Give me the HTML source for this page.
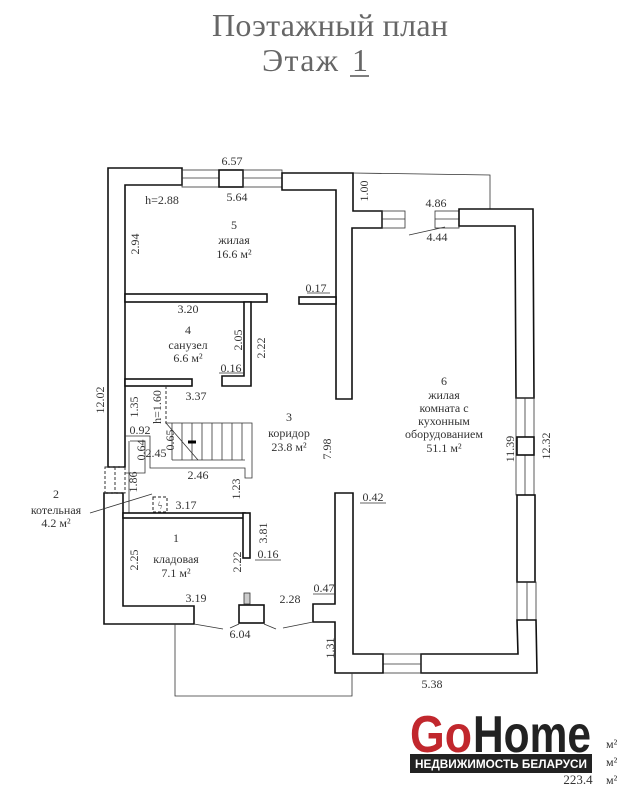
<!DOCTYPE html>
<html><head><meta charset="utf-8"><style>
html,body{margin:0;padding:0;background:#fff;}
svg{display:block;}
text{font-family:"Liberation Serif","DejaVu Serif",serif;fill:#333;}
.s{font-size:12px;text-anchor:middle;}
.w{fill:#fff;stroke:#111;stroke-width:1.6;}
.t{fill:none;stroke:#333;stroke-width:0.8;}
</style></head><body>
<svg width="644" height="800" viewBox="0 0 644 800" xmlns="http://www.w3.org/2000/svg">
<text x="330" y="36" style="font-size:32px;text-anchor:middle;fill:#666" textLength="236">Поэтажный план</text>
<text x="262" y="71" style="font-size:32px;fill:#666" textLength="76">Этаж</text>
<text x="352" y="71" style="font-size:32px;fill:#666">1</text>
<line x1="350" y1="76" x2="369" y2="76" stroke="#555" stroke-width="1.5"/>

<!-- porch outline top -->
<polyline class="t" points="353,173 490,175 490,209"/>
<!-- top-left walls -->
<path class="w" d="M108,168 L182,168 L182,185 L125,185 L125,467 L108,467 Z"/>
<rect class="t" x="182" y="170" width="37" height="17"/><line class="t" x1="182" y1="178" x2="219" y2="178"/>
<rect class="w" x="219" y="170" width="24" height="17"/>
<rect class="t" x="243" y="170" width="39" height="17"/><line class="t" x1="243" y1="178" x2="282" y2="178"/>
<path class="w" d="M282,173 L353,173 L353,211 L382,211 L382,228 L352,228 L352,399 L336,399 L336,190 L282,190 Z"/>
<rect class="t" x="382" y="211" width="23" height="17"/><line class="t" x1="382" y1="219" x2="405" y2="219"/>
<rect class="t" x="435" y="211" width="24" height="17"/><line class="t" x1="435" y1="219" x2="459" y2="219"/>
<line class="t" x1="409" y1="235" x2="445" y2="227"/>
<!-- right wall -->
<path class="w" d="M459,209 L533,209 L534,398 L516,398 L515,226 L459,226 Z"/>
<rect class="t" x="516" y="398" width="18" height="97"/><line class="t" x1="525" y1="398" x2="525" y2="495"/>
<rect class="w" x="517" y="437" width="17" height="18"/>
<rect class="w" x="517" y="495" width="18" height="87"/>
<rect class="t" x="517" y="582" width="19" height="38"/><line class="t" x1="527" y1="582" x2="527" y2="620"/>
<path class="w" d="M517,620 L536,620 L537,673 L421,673 L421,654 L518,654 Z"/>
<rect class="t" x="383" y="654" width="38" height="19"/><line class="t" x1="383" y1="664" x2="421" y2="664"/>
<path class="w" d="M335,493 L353,493 L353,654 L383,654 L383,673 L335,673 L335,622 L313,622 L313,604 L335,604 Z"/>
<!-- left lower wall -->
<path class="w" d="M104,493 L123,493 L123,606 L194,606 L194,624 L104,624 Z"/>
<rect x="105" y="467" width="20" height="26" fill="none" stroke="#333" stroke-width="1" stroke-dasharray="3,2"/>
<line x1="115" y1="467" x2="115" y2="493" stroke="#333" stroke-width="1" stroke-dasharray="3,2"/>
<polyline class="t" points="175,624 175,696 352,696 352,673"/>
<rect class="w" x="239" y="605" width="25" height="18"/>
<rect x="244" y="593" width="6" height="11" fill="#ccc" stroke="#333" stroke-width="0.8"/>
<polyline class="t" points="194,624 223,629"/><polyline class="t" points="230,628 239,624"/>
<polyline class="t" points="264,624 276,629"/><polyline class="t" points="283,628 313,622"/>
<!-- interior walls -->
<rect class="w" x="125" y="294" width="142" height="8"/>
<path class="w" d="M244,302 L251,302 L251,386 L222,386 L222,376 L244,376 Z"/>
<rect class="w" x="299" y="297" width="37" height="7"/>
<rect class="w" x="125" y="379" width="67" height="7"/>
<line x1="166" y1="386" x2="166" y2="423" stroke="#333" stroke-dasharray="3,2"/>
<!-- stairs -->
<polyline class="t" points="165,423 252,423 252,478 245,478 245,468 150,468 150,436 125,436"/>
<polyline class="t" points="130,441 145,441 145,473 125,473"/>
<line class="t" x1="172" y1="460" x2="245" y2="460"/>
<g class="t"><line x1="172" y1="423" x2="172" y2="460"/><line x1="182" y1="423" x2="182" y2="460"/><line x1="192" y1="423" x2="192" y2="460"/><line x1="202" y1="423" x2="202" y2="460"/><line x1="212" y1="423" x2="212" y2="460"/><line x1="222" y1="423" x2="222" y2="460"/><line x1="232" y1="423" x2="232" y2="460"/><line x1="242" y1="423" x2="242" y2="460"/></g>
<line class="t" x1="166" y1="423" x2="198" y2="460"/>
<line x1="188" y1="442" x2="196" y2="442" stroke="#000" stroke-width="3"/>
<line class="t" x1="129" y1="441" x2="129" y2="513"/>
<rect class="w" x="123" y="513" width="122" height="5"/>
<rect class="w" x="243" y="513" width="7" height="45"/>
<rect x="153" y="497" width="14" height="15" fill="none" stroke="#222" stroke-dasharray="3,2"/>
<text x="160" y="509" style="font-size:10px;text-anchor:middle">ϟ</text>
<line class="t" x1="90" y1="513" x2="152" y2="494"/>

<!-- labels -->
<g class="s">
<text x="232" y="165">6.57</text><text x="237" y="201">5.64</text>
<text x="162" y="204">h=2.88</text>
<text x="234" y="229">5</text><text x="234" y="244">жилая</text><text x="234" y="258">16.6 м²</text>
<text x="436" y="207">4.86</text><text x="437" y="241">4.44</text>
<text x="316" y="292">0.17</text><text x="188" y="313">3.20</text>
<text x="188" y="334">4</text><text x="188" y="349">санузел</text><text x="188" y="362">6.6 м²</text>
<text x="231" y="372">0.16</text><text x="196" y="400">3.37</text>
<text x="140" y="434">0.92</text><text x="156" y="457">2.45</text>
<text x="289" y="421">3</text><text x="289" y="437">коридор</text><text x="289" y="451">23.8 м²</text>
<text x="444" y="385">6</text><text x="444" y="399">жилая</text><text x="444" y="412">комната с</text><text x="444" y="425">кухонным</text><text x="444" y="438">оборудованием</text><text x="444" y="452">51.1 м²</text>
<text x="198" y="479">2.46</text>
<text x="56" y="498">2</text><text x="56" y="514">котельная</text><text x="56" y="527">4.2 м²</text>
<text x="186" y="509">3.17</text><text x="373" y="501">0.42</text>
<text x="268" y="558">0.16</text>
<text x="176" y="542">1</text><text x="176" y="563">кладовая</text><text x="176" y="577">7.1 м²</text>
<text x="196" y="602">3.19</text><text x="290" y="603">2.28</text><text x="324" y="592">0.47</text>
<text x="240" y="638">6.04</text><text x="432" y="688">5.38</text>
<text transform="translate(368,191) rotate(-90)">1.00</text>
<text transform="translate(139,244) rotate(-90)">2.94</text>
<text transform="translate(242,340) rotate(-90)">2.05</text>
<text transform="translate(265,348) rotate(-90)">2.22</text>
<text transform="translate(104,400) rotate(-90)">12.02</text>
<text transform="translate(138,407) rotate(-90)">1.35</text>
<text transform="translate(161,407) rotate(-90)">h=1.60</text>
<text transform="translate(174,440) rotate(-90)">0.65</text>
<text transform="translate(145,450) rotate(-90)">0.64</text>
<text transform="translate(331,449) rotate(-90)">7.98</text>
<text transform="translate(514,449) rotate(-90)">11.39</text>
<text transform="translate(550,446) rotate(-90)">12.32</text>
<text transform="translate(137,482) rotate(-90)">1.86</text>
<text transform="translate(240,489) rotate(-90)">1.23</text>
<text transform="translate(267,533) rotate(-90)">3.81</text>
<text transform="translate(138,560) rotate(-90)">2.25</text>
<text transform="translate(241,562) rotate(-90)">2.22</text>
<text transform="translate(334,648) rotate(-90)">1.31</text>
</g>
<g class="t"><line x1="307" y1="293" x2="330" y2="293"/><line x1="219" y1="373" x2="244" y2="373"/><line x1="360" y1="503" x2="386" y2="503"/><line x1="255" y1="560" x2="281" y2="560"/><line x1="313" y1="594" x2="335" y2="594"/></g>

<!-- bottom totals -->
<g style="font-size:12px">
<text x="606" y="748">м²</text><text x="606" y="766">м²</text>
<text x="578" y="784" style="font-size:13px;text-anchor:middle">223.4</text><text x="606" y="784">м²</text>
</g>
<!-- logo -->
<text x="410" y="752" style="font-family:'Liberation Sans',sans-serif;font-weight:bold;font-size:52px;fill:#c1272d" textLength="62" lengthAdjust="spacingAndGlyphs">Go</text>
<text x="473" y="752" style="font-family:'Liberation Sans',sans-serif;font-weight:bold;font-size:52px;fill:#222" textLength="118" lengthAdjust="spacingAndGlyphs">Home</text>
<rect x="410" y="754" width="182" height="19" fill="#222"/>
<text x="501" y="768" style="font-family:'Liberation Sans',sans-serif;font-weight:bold;font-size:12px;fill:#fff;text-anchor:middle" textLength="172" lengthAdjust="spacingAndGlyphs">НЕДВИЖИМОСТЬ БЕЛАРУСИ</text>
</svg>
</body></html>
